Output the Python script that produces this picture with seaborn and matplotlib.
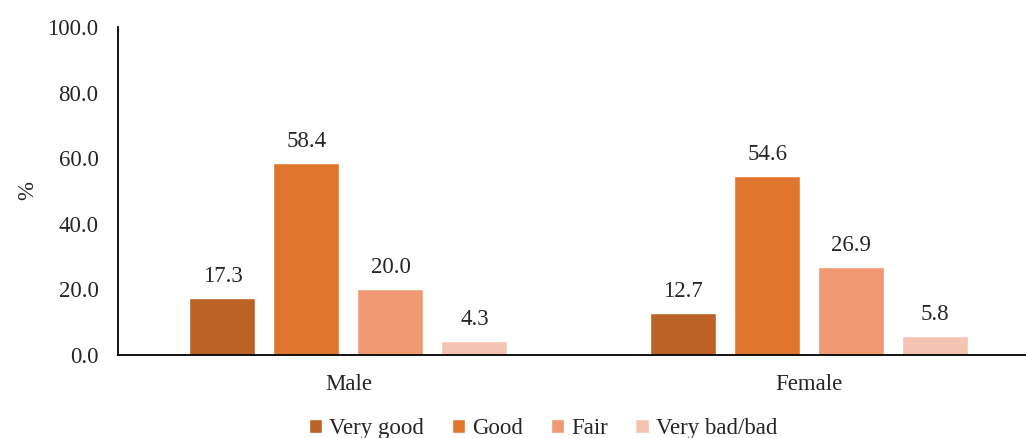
import matplotlib
matplotlib.use("Agg")
import matplotlib.pyplot as plt
import pandas as pd
import seaborn as sns

sexes = ["Male", "Female"]
ratings = ["Very good", "Good", "Fair", "Very bad/bad"]
very_good = [17.3, 12.7]
good = [58.4, 54.6]
fair = [20.0, 26.9]
very_bad = [4.3, 5.8]
colors = ["#BC6226", "#E0752E", "#F09A74", "#F4C4B2"]

rows = []
for i, s in enumerate(sexes):
    for r, vals in zip(ratings, [very_good, good, fair, very_bad]):
        rows.append({"sex": s, "rating": r, "value": vals[i]})
df = pd.DataFrame(rows)

sns.set_theme(style="white")
plt.rcParams["font.family"] = ["Liberation Serif", "DejaVu Serif"]
fs = 16.5

fig = plt.figure(figsize=(10.26, 4.38), dpi=100)
ax = fig.add_axes([0.115, 0.1895, 0.885, 0.749])
sns.barplot(data=df, x="sex", y="value", hue="rating", order=sexes, hue_order=ratings,
            palette=colors, width=0.729, gap=0.214, saturation=1, ax=ax, legend=True)

for c in ax.containers:
    ax.bar_label(c, fmt="%.1f", padding=8, fontsize=fs)

ax.set_ylim(0, 100)
ax.set_yticks([0, 20, 40, 60, 80, 100])
ax.set_yticklabels([f"{v:.1f}" for v in [0, 20, 40, 60, 80, 100]], fontsize=fs)
ax.set_xlim(-0.5, 1.47)
ax.tick_params(axis="x", labelsize=fs, pad=14, length=0)
ax.tick_params(axis="y", pad=14, length=0)
ax.set_xlabel("")
ax.set_ylabel("%", fontsize=fs)
ax.yaxis.set_label_coords(-0.088, 0.5)
sns.despine(ax=ax, top=True, right=True)
ax.spines["left"].set_color("black")
ax.spines["bottom"].set_color("black")
ax.spines["left"].set_linewidth(1.3)
ax.spines["bottom"].set_linewidth(1.3)

ax.legend(loc="upper center", bbox_to_anchor=(0.468, -0.165), ncol=4, frameon=False,
          fontsize=fs, handlelength=0.6, handleheight=0.6, handletextpad=0.3,
          columnspacing=1.2, borderaxespad=0)

fig.savefig("out.png", dpi=100)
